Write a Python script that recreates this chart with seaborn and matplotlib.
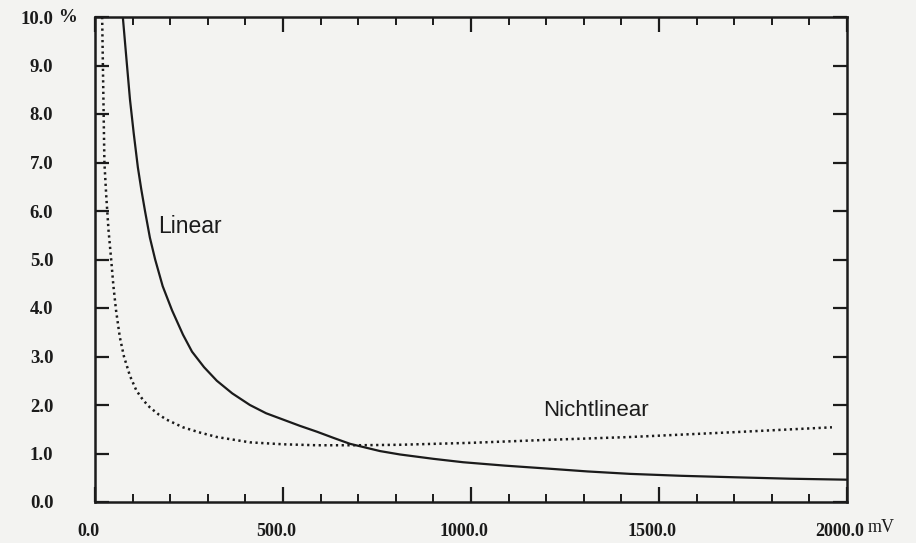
import matplotlib
matplotlib.use("Agg")
import matplotlib.pyplot as plt
import matplotlib.transforms as mtransforms
import pandas as pd
import seaborn as sns
from matplotlib.ticker import FixedLocator

# ---- data (mV -> quantisation error in %) ----
lin_mv = [74, 84, 93, 103, 114, 123, 133, 146, 160, 180, 205, 234, 258, 290, 324,
          365, 412, 455, 500, 545, 590, 635, 678, 758, 811, 900, 979, 1090, 1202,
          1310, 1423, 1560, 1700, 1850, 2000]
lin_pct = [10.0, 9.1, 8.3, 7.6, 6.9, 6.45, 6.0, 5.45, 5.0, 4.45, 3.95, 3.45, 3.1,
           2.78, 2.5, 2.24, 2.0, 1.83, 1.7, 1.57, 1.45, 1.32, 1.2, 1.05, 0.98, 0.89,
           0.82, 0.75, 0.69, 0.63, 0.58, 0.54, 0.51, 0.48, 0.46]

nl_mv = [19, 22, 25, 30, 36, 43, 49, 56, 66, 77, 93, 110, 128, 146, 170, 190, 234,
         280, 324, 412, 500, 590, 700, 811, 1000, 1200, 1423, 1700, 1960]
nl_pct = [10.0, 8.5, 7.0, 6.3, 5.6, 5.0, 4.45, 3.95, 3.4, 3.0, 2.6, 2.3, 2.1, 1.95,
          1.8, 1.7, 1.54, 1.43, 1.34, 1.23, 1.19, 1.17, 1.17, 1.18, 1.22, 1.28,
          1.34, 1.44, 1.54]

x_ticks = [0, 500, 1000, 1500, 2000]
x_tick_labels = ["0.0", "500.0", "1000.0", "1500.0", "2000.0"]
x_minor = [100, 200, 300, 400, 600, 700, 800, 900, 1100, 1200, 1300, 1400,
           1600, 1700, 1800, 1900]
y_ticks = [0, 1, 2, 3, 4, 5, 6, 7, 8, 9, 10]
y_tick_labels = ["0.0", "1.0", "2.0", "3.0", "4.0", "5.0", "6.0", "7.0", "8.0", "9.0", "10.0"]
series_labels = ["Linear", "Nichtlinear"]

sns.set_style("white")
plt.rcParams["font.family"] = ["Liberation Serif", "DejaVu Serif"]

ink = "#1b1b1b"
paper = "#f3f3f1"

fig = plt.figure(figsize=(9.16, 5.43), dpi=100)
fig.patch.set_facecolor(paper)
ax = fig.add_axes([95 / 916, 1 - 502 / 543, 752 / 916, 485 / 543])
ax.set_facecolor(paper)

df_lin = pd.DataFrame({"mV": lin_mv, "pct": lin_pct})
df_nl = pd.DataFrame({"mV": nl_mv, "pct": nl_pct})

sns.lineplot(data=df_lin, x="mV", y="pct", ax=ax, color=ink, lw=1.6,
             estimator=None, sort=False)
sns.lineplot(data=df_nl, x="mV", y="pct", ax=ax, color=ink, lw=1.8,
             linestyle=(0, (0.9, 1.4)), estimator=None, sort=False)

ax.set_xlim(0, 2000)
ax.set_ylim(0, 10)
ax.set_xlabel("")
ax.set_ylabel("")

for s in ax.spines.values():
    s.set_visible(True)
    s.set_color(ink)
    s.set_linewidth(1.8)

ax.xaxis.set_major_locator(FixedLocator(x_ticks))
ax.xaxis.set_minor_locator(FixedLocator(x_minor))
ax.set_xticklabels(x_tick_labels)
ax.yaxis.set_major_locator(FixedLocator(y_ticks))
ax.set_yticklabels(y_tick_labels)

ax.tick_params(axis="x", which="major", direction="in", length=11, width=1.6,
               color=ink, top=True, bottom=True, pad=15, labelsize=13,
               labelcolor=ink)
ax.tick_params(axis="x", which="minor", direction="in", length=6, width=1.4,
               color=ink, top=True, bottom=True)
ax.tick_params(axis="y", which="major", direction="in", length=10, width=1.6,
               color=ink, left=True, right=True, pad=30, labelsize=13.5,
               labelcolor=ink)
shift = mtransforms.ScaledTranslation(-7 / 100, 0, fig.dpi_scale_trans)
for lab in ax.get_xticklabels():
    lab.set_fontweight("bold")
    lab.set_transform(lab.get_transform() + shift)
for lab in ax.get_yticklabels():
    lab.set_fontweight("bold")

fig.text(58 / 916, 1 - 17 / 543, "%", ha="left", va="center",
         fontsize=13.5, fontweight="bold", color=ink)
fig.text(868 / 916, 1 - 528 / 543, "mV", ha="left", va="center",
         fontsize=13, color=ink)

narrow = ["Liberation Sans Narrow", "DejaVu Sans Condensed", "Liberation Sans"]
ax.text(253, 5.68, series_labels[0], ha="center", va="center", fontsize=16.5,
        family=narrow, color=ink)
ax.text(1332, 1.89, series_labels[1], ha="center", va="center", fontsize=16,
        family=narrow, color=ink)

fig.savefig("out.png", dpi=100, facecolor=fig.get_facecolor())
